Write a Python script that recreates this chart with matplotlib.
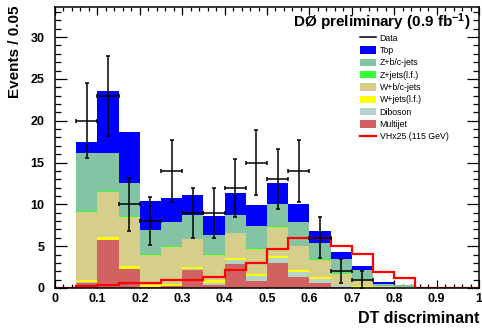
import numpy as np
import matplotlib
matplotlib.use("Agg")
import matplotlib.pyplot as plt
from matplotlib.patches import Patch
from matplotlib.lines import Line2D
from matplotlib.ticker import MultipleLocator

plt.rcParams['font.family'] = ['Liberation Sans', 'DejaVu Sans']
plt.rcParams['mathtext.fontset'] = 'custom'
plt.rcParams['mathtext.rm'] = 'Liberation Sans:bold'
plt.rcParams['mathtext.bf'] = 'Liberation Sans:bold'
plt.rcParams['mathtext.default'] = 'bf'

# ---- data ----
bin_edges = np.round(np.arange(0, 1.0001, 0.05), 2)
multijet = [0, 0.64, 5.7, 2.25, 0.1, 0.2, 2.2, 0.3, 2.87, 0.84, 3.0, 1.35, 0.64, 0.1, 0.05, 0, 0, 0, 0, 0]
diboson  = [0, 0.06, 0.05, 0.05, 0.05, 0.05, 0.05, 0.25, 0.48, 0.59, 0.6, 0.55, 0.43, 0.2, 0.07, 0.03, 0.02, 0, 0, 0]
w_lf     = [0, 0.3, 0.35, 0.3, 0.2, 0.25, 0.3, 0.35, 0.25, 0.24, 0.2, 0.25, 0.2, 0.1, 0.06, 0.02, 0.01, 0, 0, 0]
w_bc     = [0, 8.1, 5.4, 5.9, 3.59, 4.45, 3.25, 3.1, 2.95, 2.98, 3.55, 2.85, 2.13, 1.3, 0.82, 0.2, 0.09, 0, 0, 0]
z_lf     = [0, 0.08, 0.08, 0.08, 0.08, 0.08, 0.08, 0.08, 0.08, 0.08, 0.08, 0.08, 0.08, 0.06, 0.05, 0.02, 0.02, 0, 0, 0]
z_bc     = [0, 6.92, 4.52, 4.02, 2.9, 2.83, 2.82, 2.23, 2.12, 2.73, 2.58, 2.83, 1.89, 1.75, 1.16, 0.23, 0.22, 0, 0, 0]
top      = [0, 1.3, 7.5, 6.0, 3.5, 2.95, 2.4, 2.3, 2.55, 2.5, 2.6, 2.1, 1.4, 0.85, 0.45, 0.16, 0.02, 0, 0, 0]
signal   = [0.05, 0.24, 0.4, 0.55, 0.55, 0.9, 0.98, 1.3, 2.1, 3.0, 4.7, 6.0, 6.0, 5.08, 4.02, 1.97, 1.18, 0.05, 0.05, 0.05]
data     = [0, 20, 23, 10, 8, 14, 9, 9, 12, 15, 13, 14, 6, 2, 1, 0, 0, 0, 0, 0]

components = [
    ("Multijet", multijet, "#d26262"),
    ("Diboson", diboson, "#b4d4c8"),
    ("W+jets(l.f.)", w_lf, "#ffff00"),
    ("W+b/c-jets", w_bc, "#d6cf8c"),
    ("Z+jets(l.f.)", z_lf, "#33ff33"),
    ("Z+b/c-jets", z_bc, "#84c4a4"),
    ("Top", top, "#0000ff"),
]

fig = plt.figure(figsize=(4.82, 3.28), dpi=100)
ax = fig.add_axes([55/482, 1-288/328, 424/482, 281/328])

left = bin_edges[:-1]
width = np.diff(bin_edges)
bottom = np.zeros(len(left))
for name, vals, col in components:
    vals = np.array(vals, dtype=float)
    ax.bar(left, vals, width=width, bottom=bottom, align='edge', color=col,
           linewidth=0, zorder=2)
    bottom = bottom + vals

# signal
ax.stairs(signal, bin_edges, color='#ff0000', linewidth=1.6, zorder=3)

# data
data = np.array(data, dtype=float)
centers = left + width / 2
m = data > 0
ax.errorbar(centers[m], data[m], xerr=width[m] / 2, yerr=np.sqrt(data[m]),
            fmt='none', ecolor='black', elinewidth=1.1, capsize=1.2,
            capthick=1.1, zorder=4)

ax.set_xlim(0, 1)
ax.set_ylim(0, 33.6)

ax.xaxis.set_minor_locator(MultipleLocator(0.02))
ax.yaxis.set_minor_locator(MultipleLocator(1))
xt = np.round(np.arange(0, 1.01, 0.1), 1)
ax.set_xticks(xt)
ax.set_xticklabels(['0' if v == 0 else ('1' if v == 1 else f'{v:.1f}') for v in xt],
                   fontweight='bold', fontsize=9)
yt = np.arange(0, 31, 5)
ax.set_yticks(yt)
ax.set_yticklabels([str(v) for v in yt], fontweight='bold', fontsize=9)

ax.tick_params(axis='x', which='major', direction='in', length=6, width=0.9,
               top=True, pad=3.5)
ax.tick_params(axis='x', which='minor', direction='in', length=3, width=0.9, top=True)
ax.tick_params(axis='y', which='major', direction='in', length=8.5, width=0.9,
               right=True, pad=7.5)
ax.tick_params(axis='y', which='minor', direction='in', length=4.2, width=0.9, right=True)
for s in ax.spines.values():
    s.set_linewidth(1.1)
    s.set_zorder(5)

ax.set_xlabel("DT discriminant", fontweight='bold', fontsize=11.5, loc='right')
ax.xaxis.set_label_coords(1.0, -0.082)
ax.set_ylabel("Events / 0.05", fontweight='bold', fontsize=11, loc='top')
ax.yaxis.set_label_coords(-0.078, 1.005)

ax.text(0.981, 0.928, r"DØ preliminary (0.9 fb$^{-1}$)", transform=ax.transAxes,
        ha='right', va='baseline', fontsize=11, fontweight='bold', zorder=6)

handles = [Line2D([0], [0], color='black', lw=1.1)]
labels = ["Data"]
for name, vals, col in reversed(components):
    handles.append(Patch(facecolor=col, edgecolor='none'))
    labels.append(name)
handles.append(Line2D([0], [0], color='#ff0000', lw=1.6))
labels.append("VHx25 (115 GeV)")

leg = ax.legend(handles, labels, loc='upper left', bbox_to_anchor=(0.72, 0.905),
                frameon=False, fontsize=6.3, handlelength=1.75, handleheight=0.95,
                labelspacing=0.38, handletextpad=0.45, borderpad=0, borderaxespad=0)
leg.set_zorder(6)

fig.savefig("out.png", dpi=100)
